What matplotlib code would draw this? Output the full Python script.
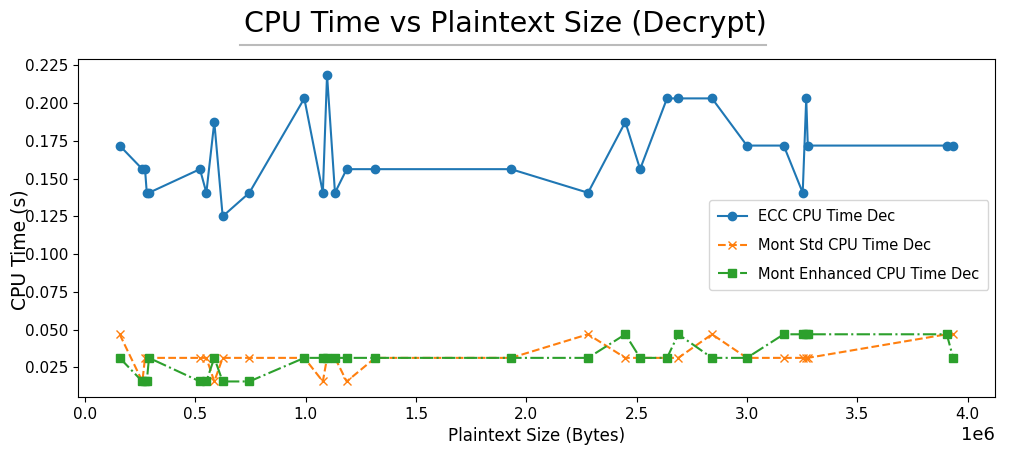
import matplotlib
matplotlib.use("Agg")
import matplotlib.pyplot as plt
from matplotlib.lines import Line2D

plaintext_size = [0.157e6, 0.260e6, 0.272e6, 0.280e6, 0.290e6, 0.521e6, 0.550e6, 0.586e6,
                  0.624e6, 0.745e6, 0.994e6, 1.078e6, 1.097e6, 1.133e6, 1.186e6, 1.315e6,
                  1.931e6, 2.280e6, 2.449e6, 2.516e6, 2.638e6, 2.689e6, 2.842e6, 3.000e6,
                  3.167e6, 3.253e6, 3.269e6, 3.276e6, 3.906e6, 3.935e6]

ecc_dec = [0.171875, 0.15625, 0.15625, 0.140625, 0.140625, 0.15625, 0.140625, 0.1875,
           0.125, 0.140625, 0.203125, 0.140625, 0.21875, 0.140625, 0.15625, 0.15625,
           0.15625, 0.140625, 0.1875, 0.15625, 0.203125, 0.203125, 0.203125, 0.171875,
           0.171875, 0.140625, 0.203125, 0.171875, 0.171875, 0.171875]

mont_std_dec = [0.046875, 0.015625, 0.03125, 0.03125, 0.03125, 0.03125, 0.03125, 0.015625,
                0.03125, 0.03125, 0.03125, 0.015625, 0.03125, 0.03125, 0.015625, 0.03125,
                0.03125, 0.046875, 0.03125, 0.03125, 0.03125, 0.03125, 0.046875, 0.03125,
                0.03125, 0.03125, 0.03125, 0.03125, 0.046875, 0.046875]

mont_enh_dec = [0.03125, 0.015625, 0.015625, 0.015625, 0.03125, 0.015625, 0.015625, 0.03125,
                0.015625, 0.015625, 0.03125, 0.03125, 0.03125, 0.03125, 0.03125, 0.03125,
                0.03125, 0.03125, 0.046875, 0.03125, 0.03125, 0.046875, 0.03125, 0.03125,
                0.046875, 0.046875, 0.046875, 0.046875, 0.046875, 0.03125]

fig = plt.figure(figsize=(10.1, 4.54), dpi=100)
ax = fig.add_axes([0.0772, 0.126, 0.9078, 0.743])

ax.plot(plaintext_size, ecc_dec, marker='o', linestyle='-', color='#1f77b4',
        label='ECC CPU Time Dec')
ax.plot(plaintext_size, mont_std_dec, marker='x', linestyle='--', color='#ff7f0e',
        label='Mont Std CPU Time Dec')
ax.plot(plaintext_size, mont_enh_dec, marker='s', linestyle='-.', color='#2ca02c',
        label='Mont Enhanced CPU Time Dec')

ax.set_yticks([0.025, 0.05, 0.075, 0.1, 0.125, 0.15, 0.175, 0.2, 0.225])
ax.tick_params(axis='both', labelsize=11)
ax.xaxis.get_offset_text().set_fontsize(13)
ax.set_xlabel('Plaintext Size (Bytes)', fontsize=12)
ax.set_ylabel('CPU Time (s)', fontsize=13.5)
ax.yaxis.set_label_coords(-0.053, 0.435)
fig.suptitle('CPU Time vs Plaintext Size (Decrypt)', fontsize=20.5, y=0.978)

fig.add_artist(Line2D([0.238, 0.758], [0.9, 0.9], color='#bbbbbb', lw=1.5,
                      transform=fig.transFigure))

ax.legend(loc='upper right', bbox_to_anchor=(0.993, 0.583), borderaxespad=0,
          fontsize=10.5, labelspacing=0.95, borderpad=0.6)

fig.savefig('out.png', dpi=100)
